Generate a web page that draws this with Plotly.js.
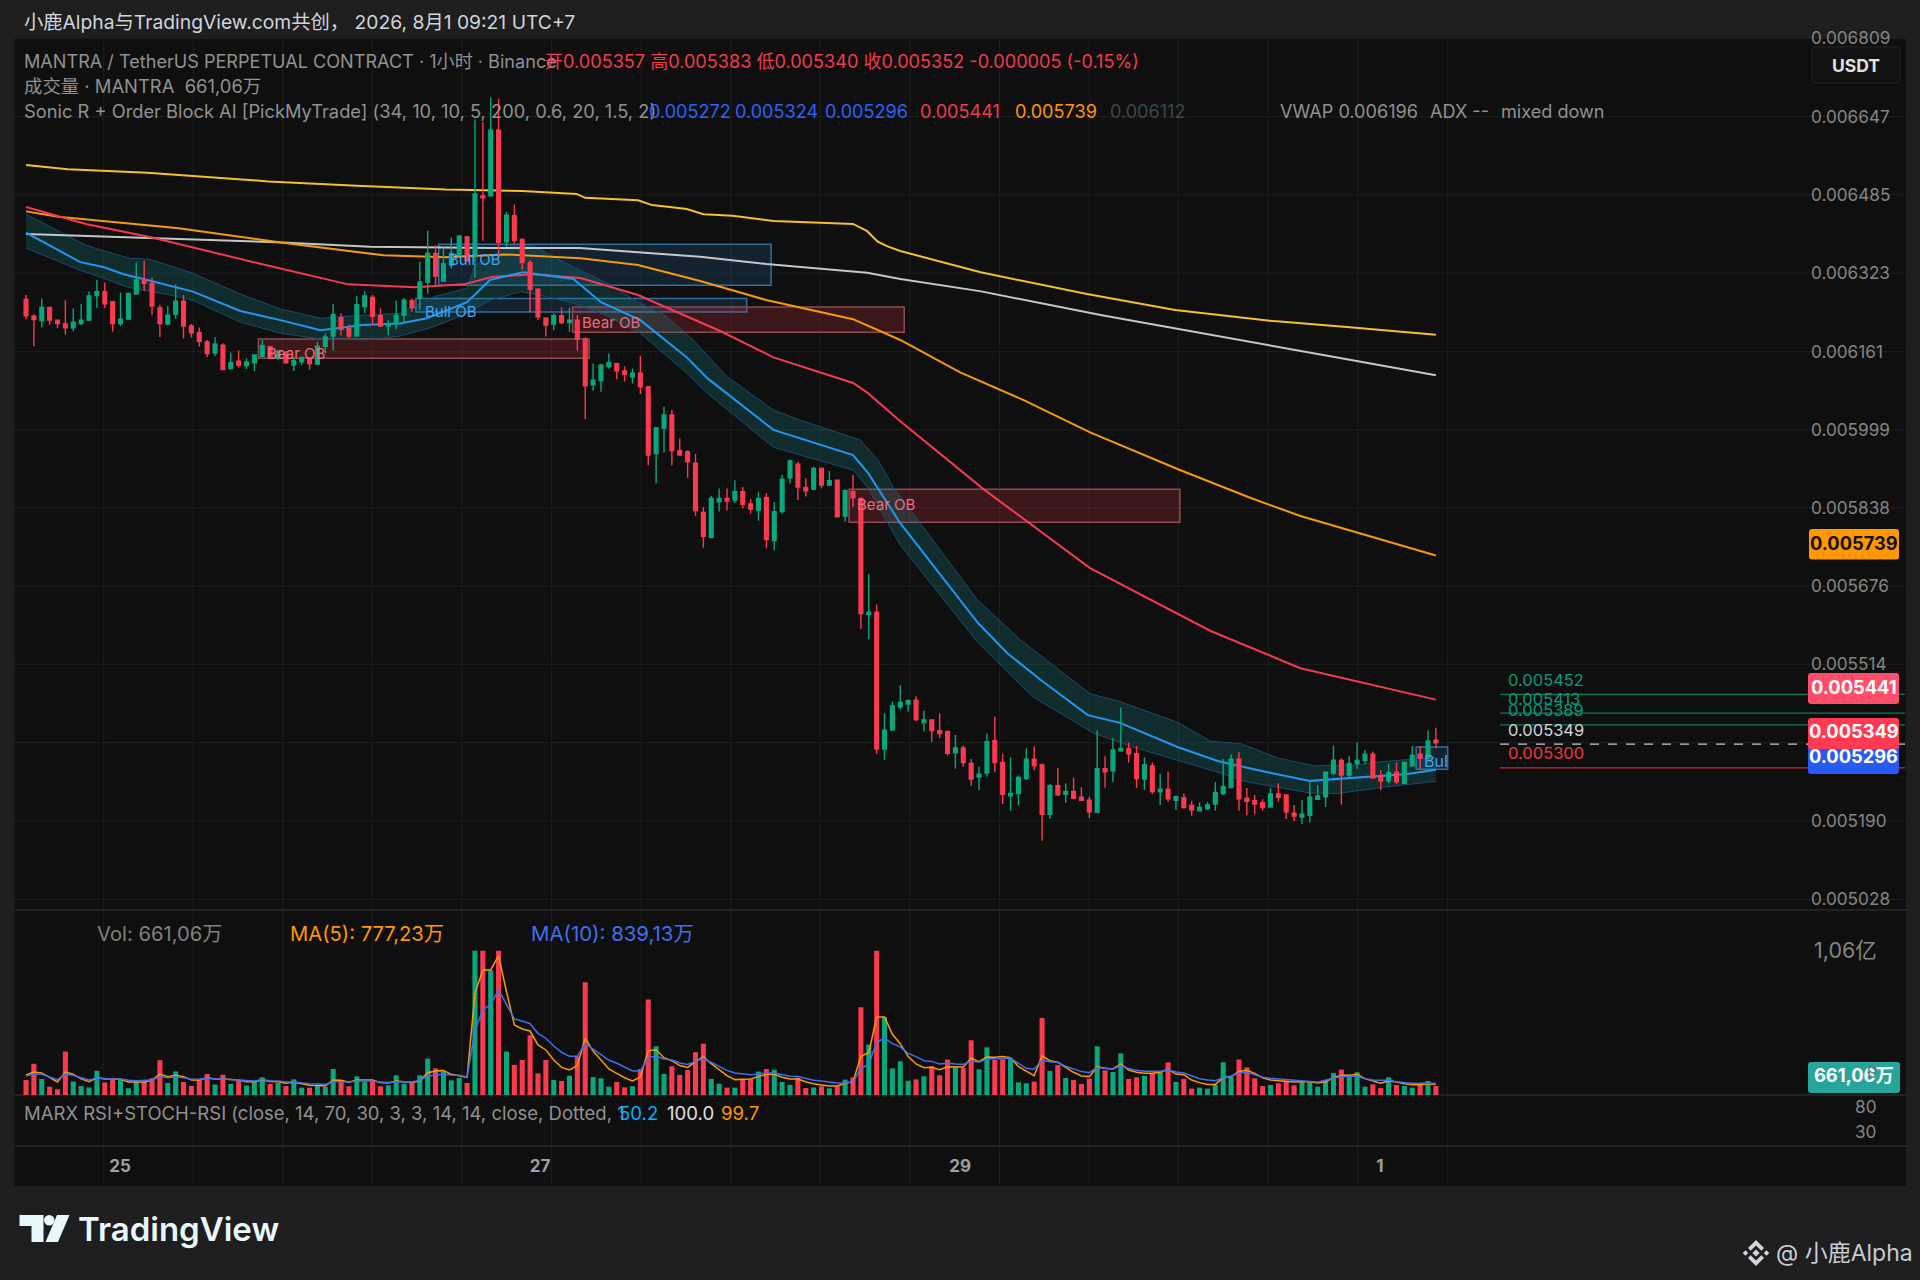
<!DOCTYPE html>
<html><head><meta charset="utf-8"><script src="https://cdn.plot.ly/plotly-3.0.1.min.js"></script>
<style>html,body{margin:0;padding:0;background:#1e1e1e}</style></head>
<body><div id="chart" style="width:1920px;height:1280px"></div>
<script>
// ---- candle values, in millionths of USDT ----
const openU=[6269,6234,6225,6252,6226,6218,6210,6219,6226,6277,6285,6264,6219,6228,6280,6310,6302,6251,6218,6238,6265,6214,6200,6181,6158,6174,6126,6141,6132,6138,6151,6171,6147,6158,6133,6140,6147,6135,6172,6193,6231,6209,6193,6254,6273,6235,6214,6219,6236,6266,6271,6305,6364,6307,6340,6360,6398,6357,6483,6483,6619,6388,6442,6393,6345,6290,6230,6218,6235,6221,6226,6187,6092,6101,6130,6136,6121,6109,6116,6088,5950,6003,6030,5956,5954,5930,5828,5777,5850,5857,5854,5871,5846,5833,5859,5770,5830,5900,5928,5880,5876,5919,5885,5895,5821,5871,5857,5617,5622,5339,5378,5426,5432,5440,5393,5399,5377,5375,5331,5341,5309,5281,5289,5356,5311,5242,5247,5278,5318,5306,5204,5263,5245,5251,5239,5233,5208,5298,5294,5335,5340,5329,5277,5304,5251,5256,5233,5238,5222,5211,5216,5225,5247,5259,5318,5237,5232,5228,5219,5246,5244,5206,5198,5202,5235,5240,5289,5315,5285,5309,5315,5328,5282,5273,5291,5268,5304,5328,5320,5357];
const highU=[6278,6238,6271,6252,6227,6267,6250,6260,6285,6309,6304,6264,6283,6282,6345,6349,6314,6258,6255,6300,6278,6218,6211,6185,6191,6178,6159,6163,6147,6155,6185,6172,6165,6162,6147,6151,6147,6181,6198,6260,6240,6217,6276,6286,6278,6250,6226,6266,6272,6271,6347,6411,6381,6376,6397,6400,6400,6641,6636,6686,6684,6450,6465,6395,6350,6292,6232,6240,6252,6252,6236,6190,6136,6136,6157,6136,6130,6126,6152,6090,6005,6047,6040,5981,5957,5949,5839,5863,5878,5878,5895,5881,5856,5871,5868,5850,5906,5938,5933,5899,5923,5921,5914,5895,5876,5906,5859,5701,5638,5413,5437,5471,5442,5448,5418,5400,5413,5375,5368,5346,5318,5302,5371,5406,5329,5322,5284,5340,5344,5309,5267,5300,5268,5280,5260,5240,5377,5324,5361,5425,5352,5345,5322,5311,5287,5292,5242,5247,5232,5229,5230,5270,5318,5328,5332,5258,5244,5235,5259,5268,5244,5223,5233,5273,5264,5291,5346,5320,5324,5353,5337,5334,5295,5309,5311,5313,5345,5344,5377,5383];
const lowU=[6228,6172,6211,6217,6209,6196,6203,6216,6224,6251,6251,6202,6214,6227,6279,6287,6236,6191,6216,6229,6188,6190,6171,6150,6152,6123,6124,6128,6125,6121,6149,6149,6143,6136,6121,6133,6124,6133,6157,6163,6195,6188,6192,6240,6216,6212,6195,6207,6220,6243,6247,6281,6298,6305,6333,6359,6347,6314,6390,6482,6355,6378,6384,6331,6243,6227,6192,6205,6218,6202,6163,6021,6080,6078,6126,6104,6099,6095,6073,5926,5888,5952,5926,5946,5900,5821,5755,5775,5830,5832,5847,5837,5826,5811,5754,5750,5826,5888,5854,5861,5875,5878,5883,5819,5809,5840,5587,5566,5329,5316,5377,5421,5416,5397,5375,5353,5361,5325,5298,5302,5263,5254,5282,5292,5225,5211,5222,5275,5295,5149,5194,5242,5228,5235,5233,5196,5207,5259,5271,5333,5311,5258,5254,5246,5223,5230,5213,5216,5201,5211,5213,5211,5244,5258,5211,5202,5204,5211,5219,5230,5194,5190,5184,5187,5233,5219,5285,5224,5279,5298,5308,5279,5254,5269,5266,5266,5302,5297,5316,5340];
const closeU=[6235,6227,6252,6226,6219,6210,6222,6226,6276,6285,6260,6219,6228,6281,6309,6302,6255,6219,6236,6265,6214,6200,6182,6157,6176,6124,6138,6133,6139,6154,6173,6150,6162,6138,6142,6149,6136,6172,6191,6238,6207,6193,6258,6276,6234,6214,6217,6236,6267,6252,6305,6364,6317,6342,6364,6400,6349,6487,6479,6619,6387,6443,6391,6345,6290,6233,6216,6235,6221,6226,6187,6090,6102,6133,6138,6121,6114,6116,6088,5947,6003,6030,5956,5947,5933,5832,5779,5857,5857,5852,5871,5845,5835,5857,5772,5830,5897,5935,5881,5873,5919,5885,5894,5819,5873,5859,5619,5622,5339,5378,5428,5435,5439,5400,5399,5377,5371,5330,5341,5311,5277,5287,5354,5311,5245,5247,5280,5318,5304,5204,5263,5244,5251,5237,5233,5209,5298,5292,5337,5340,5329,5278,5306,5251,5256,5236,5240,5218,5213,5218,5223,5249,5261,5318,5236,5231,5225,5218,5246,5239,5209,5200,5204,5239,5242,5291,5316,5285,5309,5315,5328,5279,5273,5290,5271,5311,5326,5320,5355,5352];
// ---- volume, in millions ----
const volume=[11,23,11.8,6.1,4.2,31.9,10,6.6,5.6,17.9,9.1,11,11.5,4.9,9.8,9.8,12.3,25.5,8.8,17.2,9.6,6.6,11,15.4,7.8,14.9,8.1,10.5,6.9,9.8,13,8.1,8.8,6.6,11.5,5.4,5.4,7.4,5.9,19.1,9.8,6.4,13.7,9.8,10.5,6.4,7.1,14.5,8.3,9.1,14.5,26.7,19.6,17.2,10.8,12.5,8.8,106,106,91.4,106,31.9,22.1,25.7,43.9,15.9,25.7,11,10.3,14.2,28.2,82.8,13.2,12.3,6.1,9.6,5.6,6.4,19.1,70.1,35.8,15.4,21.1,14.7,18.4,31.4,37.7,11.8,8.3,5.4,5.4,11,11.5,17.2,19.1,18.6,9.6,7.4,12.7,5.1,5.6,6.4,4.9,6.4,11.3,13,64.4,37,106,57.3,19.6,24.7,10.5,11.5,13.7,21.1,14.5,26,20.3,19.8,40.2,18.9,35,25.7,26.2,27,9.3,8.6,9.8,56.6,17.6,22,12.5,11,8.1,12,35.8,18.1,16.9,30.6,11.8,13,14,15.9,16.7,24,9.6,11.8,4.7,5.4,4.7,7.4,24,13.5,26,20.3,12.3,6.6,7.4,8.6,10.5,7.1,9.8,9.6,6.1,11,16.2,18.6,14.5,16.7,6.1,7.8,5.1,13,7.4,6.6,5.4,7.6,10.3,6.6];
const ma5=[14.7,16.9,16.2,13,9.6,16.9,15.2,11.8,9.8,12.7,11.8,11.8,11.5,9.6,9.8,9.3,11,15.4,13.5,14.5,13.5,11,11,12.7,11.8,11.8,11.3,11,9.8,9.8,11,10,9.8,8.6,9.3,8.1,7.1,6.9,6.6,11,10.8,9.3,11,11,11,9.1,8.8,10.3,9.6,9.1,10.3,16.4,17.6,17.9,15.2,14.2,13,74.7,91.9,91.9,102.4,76,51.5,48.5,47,36.8,33.1,25.7,20.3,18.4,21.6,41.7,32.3,25.7,19.1,15.9,12.7,10.3,13.2,32.6,33.3,27.4,25.2,21.6,20.3,24.5,28.2,23,18.4,14.2,11.3,11.3,11.8,13.5,15.2,15.2,13,11.8,11.8,9.8,8.3,7.4,6.6,6.6,8.6,9.8,28.4,31.1,57.3,57.3,44.6,37.7,28.2,22.8,20.1,20.3,18.6,20.8,20.8,20.6,27,24.5,27.9,27.7,28.2,27.4,20.8,17.2,14.2,28.7,25.2,24,20.1,16.7,14,13.5,20.8,19.6,19.1,22.8,18.4,16.7,15.9,15.9,16.7,18.9,15.4,14.9,11,9.1,7.8,7.8,12.7,13.5,17.2,18.1,15.9,12.7,11,10.5,10.3,9.6,9.8,9.8,8.8,9.8,12.7,14.5,14.5,15.2,12,10.3,8.6,10.3,9.6,8.3,7.6,7.6,8.3,7.8];
const ma10=[14,15.4,15.2,13.2,11.3,15.2,14.5,12.7,11,12.5,12,11.8,11.8,10.8,10.5,10.5,11,13.5,12.7,13.2,12.7,11.5,11.5,12.5,11.8,11.8,11.3,10.8,10.3,10.3,11.3,10.5,10.3,9.6,9.6,8.8,8.3,8.1,7.8,10,9.8,9.6,10.3,10.3,10.3,9.6,9.1,9.8,9.8,9.6,10.8,14,14.7,15.2,14.7,14.5,13.2,47.3,62.5,66.6,77.2,66,55.9,54.4,52.4,45.3,41.7,36,31.4,28.4,28.4,37.7,33.8,29.4,25.7,23.3,20.6,17.6,17.6,27.4,28.7,26.5,25.7,23.5,22.5,24.7,27,24,21,18.1,16.2,15.4,14.9,15.2,16.2,16.2,15.2,13.7,13.5,12,10.8,10.3,9.3,8.8,8.8,9.6,19.6,22.5,38.7,41.7,37.7,35.3,30.6,28.2,25.2,24.7,22.8,23.3,22.8,22.5,25,24.3,26.5,26.5,26.7,27,23.3,19.6,18.9,25.7,24.5,23.8,21.1,18.9,17.2,16.4,20.1,19.6,18.9,21.6,19.4,18.1,17.4,17.4,17.4,18.4,16.9,16.2,14,12,11,10.5,12.7,14,16.2,16.7,14.9,13,12.3,11.8,11,11,10.5,10,9.6,10.8,12.5,13.5,13.5,14,12,11,10.8,10.8,9.8,9.1,8.6,8.6,8.8,8.4];
// ---- indicator lines: read at bar index / value ----
const vwapX=[0,5.3,15.4,30.8,42,53.3,63,69.9,71,77.7,79.5,83.9,86,89.7,94.9,105,106.8,108.1,109.3,111,121.2,134.7,145.9,158.4,167.7,179];
const vwapY=[6547,6538,6531,6513,6504,6496,6493,6487,6479,6474,6464,6456,6445,6442,6431,6425,6410,6389,6379,6369,6325,6280,6247,6224,6212,6196];
const greyX=[0,16,31.9,43.7,59,70.3,77.1,85.6,94,106.8,111,121.1,136.6,152.2,167.7,179];
const greyY=[6404,6396,6387,6378,6375,6375,6367,6357,6342,6324,6311,6286,6236,6191,6145,6112];
const orangeX=[0,4.1,19.4,33.1,45.4,53.3,60.7,70.4,77.7,85.6,94.1,105,111,118.6,126.6,135.1,146.5,155.5,161.8,179];
const orangeY=[6451,6440,6416,6385,6360,6356,6362,6354,6340,6307,6267,6228,6185,6118,6061,5994,5916,5858,5821,5739];
const redX=[0,7.6,16,29.6,40.9,49.4,55.6,59.1,64.2,70.4,77.7,88.2,94.9,105,106.9,111,121.6,135.1,150.4,161.8,179];
const redY=[6460,6425,6397,6343,6300,6294,6300,6315,6321,6313,6278,6203,6149,6096,6075,6017,5876,5713,5583,5506,5441];
const midX=[0,4,6.9,9.8,12.4,15.4,21.2,27.2,32.3,37.4,42.8,47.5,50.9,56,58.9,63.1,69.5,73,78,83.9,86.5,94.9,98.7,105,106.9,111,120.9,124.6,128.8,134.8,138.9,146.2,151.3,157.6,163,166.6,171.2,175.4,179];
const midY=[6407,6371,6346,6336,6321,6309,6285,6245,6226,6205,6216,6219,6230,6263,6309,6325,6311,6263,6226,6149,6106,5999,5980,5947,5910,5806,5599,5537,5482,5409,5393,5343,5314,5291,5273,5277,5283,5287,5296];
const upX=[0,7.6,9.5,13.2,15.7,21.2,27.2,32.3,37.4,42.5,47.5,51.7,56,57,58.9,61.5,64.4,69.5,73.7,78,81.4,84.7,89,94.9,98.3,105.9,108.2,110.1,120.8,126.3,135.1,138.9,146.2,150.4,154.2,159,163.6,168.9,172.4,179];
const upY=[6445,6381,6371,6354,6352,6323,6280,6249,6230,6236,6240,6274,6292,6340,6356,6380,6380,6336,6303,6261,6233,6185,6109,6040,6019,5978,5936,5881,5647,5564,5453,5437,5394,5355,5350,5320,5304,5306,5313,5322];
const loX=[0,6.9,9.8,12.9,18.3,21.2,27.2,32.3,37.4,43.3,47.5,51.7,56,58.9,62.8,66.2,69.5,73.7,78,83.9,86.5,94.9,98.3,105,106.8,111,120.8,127.9,135.5,140.5,151.3,155,163,166.6,172.4,179];
const loY=[6375,6329,6313,6294,6278,6267,6222,6199,6187,6185,6193,6212,6240,6267,6285,6274,6261,6236,6199,6116,6075,5963,5947,5916,5881,5761,5560,5446,5372,5343,5291,5271,5248,5247,5260,5272];
// ---- order blocks ----
const obKind=['bull','bull','bear','bear','bear','bull'];
const obName=['Bull OB','Bull OB','Bear OB','Bear OB','Bear OB','Bul'];
const obStart=[52.4,49.5,29.5,69.4,104.5,176.5];
const obEnd=[94.6,91.5,71.5,111.5,146.5,180.5];
const obTop=[6383,6271,6187,6253,5876,5343];
const obBot=[6298,6243,6147,6201,5808,5297];
const obLabelX=[53.5,50.4,30.3,70.3,105.3,177.2];
const obLabelY=[6352,6243,6156,6222,5845,5314];
// ---- axes ----
const priceTicks=[6809,6647,6485,6323,6161,5999,5838,5676,5514,5352,5190,5028];
const priceTickText=['0.006809','0.006647','0.006485','0.006323','0.006161','0.005999','0.005838','0.005676','0.005514','','0.005190','0.005028'];
const gridBars=[9.86,21.25,32.57,43.96,55.35,66.73,78.11,89.5,100.8,112.2,123.6,135,146.3,157.7,169.1,180.5];
const dateTickBars=[11.93,65.27,118.6,171.9];
const dateTickText=['25','27','29','1'];
const volTicks=[106];const volTickText=['1,06亿'];
const rsiTicks=[80,30];
// ---- right side levels ----
const levelVals=[5452,5413,5389,5349,5300];
const levelText=['0.005452','0.005413','0.005389','0.005349','0.005300'];
const levelColor=['#0b7a62','#0b7a62','#0b7a62','#c9c9c9','#c72f3d'];
const levelTextColor=['#0a9a7c','#0a9a7c','#0a9a7c','#d1d4dc','#f23645'];
const levelLabelY=[680,699,710,730,753];

const W=1920,H=1280,UP='#08a77d',DN='#fb3a50',FONT='Inter, "Noto Sans CJK SC", sans-serif',GRID='#1c1c1c';
const px=x=>x/W, py=y=>1-y/H, real=a=>a.map(v=>v/1e6), idx=openU.map((_,i)=>i);
const pt=(x,y)=>px(x).toFixed(5)+','+py(y).toFixed(5);
const rr=(x0,y0,x1,y1,r)=>`M${pt(x0+r,y0)}L${pt(x1-r,y0)}Q${pt(x1,y0)} ${pt(x1,y0+r)}L${pt(x1,y1-r)}Q${pt(x1,y1)} ${pt(x1-r,y1)}L${pt(x0+r,y1)}Q${pt(x0,y1)} ${pt(x0,y1-r)}L${pt(x0,y0+r)}Q${pt(x0,y0)} ${pt(x0+r,y0)}Z`;
const poly=p=>'M'+p.map(q=>pt(q[0],q[1])).join('L')+'Z';

const line=(x,y,color,width,name)=>({type:'scatter',mode:'lines',x,y:real(y),xaxis:'x',yaxis:'y',name,line:{color,width},hoverinfo:'skip'});
const traces=[
 {type:'scatter',mode:'lines',x:loX,y:real(loY),xaxis:'x',yaxis:'y',line:{color:'#1b4a6e',width:1},hoverinfo:'skip'},
 {type:'scatter',mode:'lines',x:upX,y:real(upY),xaxis:'x',yaxis:'y',line:{color:'#1b4a6e',width:1},fill:'tonexty',fillcolor:'rgba(24,130,135,0.25)',hoverinfo:'skip'},
 line(vwapX,vwapY,'#f2c12e',2,'VWAP'),
 line(greyX,greyY,'#c6c6c6',2,'EMA'),
 line(orangeX,orangeY,'#f59a0c',2,'EMA'),
 line(redX,redY,'#f23a50',2,'EMA'),
 line(midX,midY,'#2196f3',2,'Mid'),
 {type:'candlestick',x:idx,open:real(openU),high:real(highU),low:real(lowU),close:real(closeU),xaxis:'x',yaxis:'y4',whiskerwidth:0,
  increasing:{line:{color:UP,width:1.4},fillcolor:UP},decreasing:{line:{color:DN,width:1.4},fillcolor:DN},hoverinfo:'skip'},
 {type:'bar',x:idx,y:volume,xaxis:'x',yaxis:'y2',marker:{color:idx.map(i=>closeU[i]>=openU[i]?UP:DN),line:{width:0}},hoverinfo:'skip'},
 {type:'scatter',mode:'lines',x:idx,y:ma5,xaxis:'x',yaxis:'y2',line:{color:'#ff9800',width:1.5},hoverinfo:'skip'},
 {type:'scatter',mode:'lines',x:idx,y:ma10,xaxis:'x',yaxis:'y2',line:{color:'#3f6ff0',width:1.5},hoverinfo:'skip'},
 {type:'scatter',mode:'lines',x:[179],y:[50.2],xaxis:'x',yaxis:'y3',line:{color:'#00b0ff',width:1},hoverinfo:'skip'}
];

const shapes=[];
shapes.push({type:'rect',layer:'below',xref:'paper',yref:'paper',x0:px(14.5),x1:px(1906),y0:py(1186),y1:py(38),fillcolor:'#0f0f0f',line:{width:0}});
gridBars.forEach(b=>shapes.push({type:'line',layer:'below',xref:'x',yref:'paper',x0:b,x1:b,y0:py(1186),y1:py(38),line:{color:GRID,width:1.2}}));
priceTicks.forEach(p=>shapes.push({type:'line',layer:'below',xref:'paper',yref:'y',x0:px(14.5),x1:px(1906),y0:p/1e6,y1:p/1e6,line:{color:GRID,width:1.2}}));
[910,1095,1146].forEach(y=>shapes.push({type:'line',layer:'below',xref:'paper',yref:'paper',x0:px(14.5),x1:px(1906),y0:py(y),y1:py(y),line:{color:'#222222',width:2}}));
obStart.forEach((s,i)=>{const bull=obKind[i]==='bull';
 shapes.push({type:'rect',layer:'below',xref:'x',yref:'y',x0:s,x1:obEnd[i],y0:obBot[i]/1e6,y1:obTop[i]/1e6,
  fillcolor:bull?'rgba(41,128,200,0.17)':'rgba(242,54,69,0.2)',line:{color:bull?'#2f6f9f':'#8f4a52',width:1.5}});});
levelVals.forEach((v,i)=>shapes.push({type:'line',layer:'below',xref:'paper',yref:'y',x0:px(1500),x1:px(1905),y0:v/1e6,y1:v/1e6,
 line:{color:levelColor[i],width:1.2,dash:i===3?'dash':'solid'}}));
const tags=[[1809,529,1899,559.5,'#ff9800','0.005739','#111111',542.5],[1808,673,1899,704,'#ff4d6a','0.005441','#ffffff',687],[1808,745,1899,774,'#2a5bf0','0.005296','#ffffff',756],[1808,718,1899,749,'#ff3a52','0.005349','#ffffff',731],[1808,1062,1900,1093,'#26a69a','661,06万','#ffffff',1074.5]];
tags.forEach(t=>shapes.push({type:'path',layer:'above',xref:'paper',yref:'paper',path:rr(t[0],t[1],t[2],t[3],3),fillcolor:t[4],line:{width:0}}));
shapes.push({type:'path',layer:'above',xref:'paper',yref:'paper',path:rr(1812,47,1900,83,4),fillcolor:'#111111',line:{color:'#252525',width:1}});
// TradingView mark
const TV='#e8f7fb';
shapes.push({type:'path',xref:'paper',yref:'paper',layer:'above',path:poly([[19.5,1215],[43.5,1215],[43.5,1242],[31.5,1242],[31.5,1226],[19.5,1226]]),fillcolor:TV,line:{width:0}});
shapes.push({type:'circle',xref:'paper',yref:'paper',layer:'above',x0:px(44),x1:px(54.5),y0:py(1225.5),y1:py(1215),fillcolor:TV,line:{width:0}});
shapes.push({type:'path',xref:'paper',yref:'paper',layer:'above',path:poly([[57,1215],[69.5,1215],[58,1242],[45.5,1242]]),fillcolor:TV,line:{width:0}});
// exchange mark
const BN='#d1d4dc',cx=1756,cy=1253;
const dia=(x,y,r)=>poly([[x,y-r],[x+r,y],[x,y+r],[x-r,y]]);
[[cx-10.5,cy,2.8],[cx+10.5,cy,2.8],[cx,cy,3.6]].forEach(d=>shapes.push({type:'path',xref:'paper',yref:'paper',layer:'above',path:dia(d[0],d[1],d[2]),fillcolor:BN,line:{width:0}}));
[1,-1].forEach(s=>shapes.push({type:'path',xref:'paper',yref:'paper',layer:'above',path:poly([[cx,cy-13*s],[cx+8,cy-5*s],[cx+5.3,cy-2.3*s],[cx,cy-7.6*s],[cx-5.3,cy-2.3*s],[cx-8,cy-5*s]]),fillcolor:BN,line:{width:0}}));

const ann=[];
const T=(x,y,text,color,size,extra)=>ann.push(Object.assign({xref:'paper',yref:'paper',x:px(x),y:py(y),text,showarrow:false,xanchor:'left',yanchor:'middle',
 font:{family:FONT,size:size||16,color:color||'#8f8f8f'},borderpad:0},extra||{}));
const LS=18.1;
T(23,22,'小鹿Alpha与TradingView.com共创， 2026, 8月1 09:21 UTC+7','#d1d4dc',19.3);
T(23,61,'MANTRA / TetherUS PERPETUAL CONTRACT · 1小时 · Binance','#919191',LS);
T(544,61,'开0.005357 高0.005383 低0.005340 收0.005352 -0.000005 (-0.15%)','#f23a50',LS);
T(23,86,'成交量 · MANTRA  661,06万','#919191',18.4);
T(23,111,'Sonic R + Order Block AI [PickMyTrade] (34, 10, 10, 5, 200, 0.6, 20, 1.5, 2)','#919191',18.3);
[[648,'0.005272','#2962ff'],[734,'0.005324','#2962ff'],[824,'0.005296','#2962ff'],[919,'0.005441','#f23a50'],[1014,'0.005739','#ff9800'],[1109,'0.006112','#3a4750'],[1279,'VWAP 0.006196','#919191'],[1429,'ADX --','#919191'],[1500,'mixed down','#919191']].forEach(l=>T(l[0],111,l[1],l[2],LS));
T(95.5,933,'Vol: 661,06万','#808080',20.2);T(289,933,'MA(5): 777,23万','#ff9800',20.2);T(530,933,'MA(10): 839,13万','#3f6ff0',20.4);
T(23,1113,'MARX RSI+STOCH-RSI (close, 14, 70, 30, 3, 3, 14, 14, close, Dotted, 1','#919191',18.5);
T(618,1113,'50.2','#00b0ff',18.6);T(665.5,1113,'100.0','#e0e0e0',18.6);T(720,1113,'99.7','#ff9800',18.6);
levelText.forEach((t,i)=>T(1506.5,levelLabelY[i],t,levelTextColor[i],16.5));
tags.forEach(t=>T((t[0]+t[2])/2,t[7],t[5],t[6],18.3,{xanchor:'center',font:{family:FONT,size:18.3,color:t[6],weight:700}}));
T(1856,65,'USDT','#e0e0e0',17.5,{xanchor:'center',font:{family:FONT,size:17.5,color:'#e0e0e0',weight:700}});
T(1872,1072,'0','#777777',17,{xanchor:'center'});
T(77,1229,'TradingView',TV,33,{font:{family:FONT,size:33,color:TV,weight:600}});
T(1775,1253,'@ 小鹿Alpha','#c9ccd4',23);
obName.forEach((n,i)=>ann.push({xref:'x',yref:'y',x:obLabelX[i],y:obLabelY[i]/1e6,text:n,showarrow:false,xanchor:'left',yanchor:'middle',
 font:{family:FONT,size:i===5?16:15,color:obKind[i]==='bull'?'#42a5f5':'#ea6d80'}}));

const priceRange=[5005.9/1e6,6809.6/1e6];
const ya={side:'right',anchor:'x',showgrid:false,zeroline:false,showline:false,ticks:'',tickfont:{family:FONT,size:17.2,color:'#858585'},fixedrange:true};
const layout={width:W,height:H,autosize:false,margin:{l:0,r:0,t:0,b:0,pad:0},paper_bgcolor:'#1e1e1e',plot_bgcolor:'rgba(0,0,0,0)',showlegend:false,
 boxgap:0.33,bargap:0.36,hovermode:false,dragmode:false,
 xaxis:{domain:[px(14.5),px(1810)],range:[-1.46,226.5],anchor:'y3',showgrid:false,zeroline:false,showline:false,ticks:'outside',ticklen:5,tickcolor:'rgba(0,0,0,0)',tickmode:'array',tickvals:dateTickBars,ticktext:dateTickText,
  tickfont:{family:FONT,size:17,color:'#a0a0a0',weight:700},rangeslider:{visible:false},fixedrange:true},
 yaxis:Object.assign({},ya,{domain:[py(910),py(38)],range:priceRange,tickmode:'array',tickvals:real(priceTicks),ticktext:priceTickText}),
 yaxis4:{overlaying:'y',side:'right',anchor:'x',range:priceRange,visible:false,showgrid:false,zeroline:false,fixedrange:true},
 yaxis2:Object.assign({},ya,{domain:[py(1095),py(910)],range:[0,135.9],tickmode:'array',tickvals:volTicks,ticktext:volTickText,ticklabelstandoff:3,tickfont:{family:FONT,size:21.5,color:'#858585'}}),
 yaxis3:Object.assign({},ya,{domain:[py(1146),py(1095)],range:[2,104],tickmode:'array',tickvals:rsiTicks,ticklabelstandoff:44}),
 shapes,annotations:ann};
Plotly.newPlot('chart',traces,layout,{staticPlot:true,displayModeBar:false});
</script></body></html>
